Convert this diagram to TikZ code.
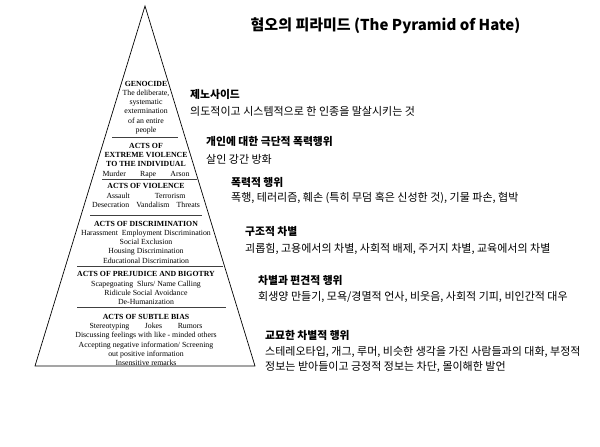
\documentclass[tikz,border=0pt]{standalone}
\usepackage{fontspec}
\setmainfont{Liberation Serif}
\newfontfamily\kor{Noto Sans CJK KR}
\newcommand\pyrfont{\fontsize{7.8}{9.3}\selectfont}

\begin{document}
\begin{tikzpicture}[x=1pt,y=-1pt,
  layertext/.style={anchor=north,align=center,inner sep=0pt,font=\pyrfont},
  sepline/.style={black!75,line width=0.6pt},
  heading/.style={anchor=base west,inner sep=0pt,font=\kor\bfseries\fontsize{10.8}{13}\selectfont},
  detail/.style={anchor=base west,inner sep=0pt,font=\kor\fontsize{11}{13}\selectfont}]
\useasboundingbox (0,0) rectangle (600,447);

% pyramid
\draw[line width=0.7pt] (145,6) -- (255,366) -- (35,366) -- cycle;
\draw[sepline] (112,137.3) -- (178,137.3)   (102,179) -- (197,179)
      (90,215) -- (202,215)   (77,266.5) -- (223,266.5)
      (77,307.5) -- (226,307.5);

\node[layertext] (genocide) at (146,80.7) {\textbf{GENOCIDE}\\The deliberate,\\systematic\\extermination\\of an entire\\people};
\node[layertext] (extreme) at (146,143) {\textbf{ACTS OF}\\\textbf{EXTREME VIOLENCE}\\\textbf{TO THE INDIVIDUAL}\\\makebox[87pt][s]{Murder\hfill Rape\hfill Arson}};
\node[layertext] (violence) at (146,183.4) {\textbf{ACTS OF VIOLENCE}\\\makebox[79pt][s]{Assault\hfill Terrorism}\\\makebox[108pt][s]{Desecration\hfill Vandalism\hfill Threats}};
\node[layertext] (discrim) at (146,220.7) {\textbf{ACTS OF DISCRIMINATION}\\Harassment\ \ Employment Discrimination\\Social Exclusion\\Housing Discrimination\\Educational Discrimination};
\node[layertext] (prejudice) at (146,271.4) {\textbf{ACTS OF PREJUDICE AND BIGOTRY}\\Scapegoating\ \ Slurs/ Name Calling\\Ridicule Social Avoidance\\De-Humanization};
\node[layertext] (subtle) at (146,314) {\textbf{ACTS OF SUBTLE BIAS}\\\makebox[113pt][s]{Stereotyping\hfill Jokes\hfill Rumors}\\Discussing feelings with like - minded others\\Accepting negative information/ Screening\\out positive information\\Insensitive remarks};

% title
\node[anchor=base,inner sep=0pt,font=\kor\bfseries\fontsize{15}{18}\selectfont] (title) at (385.5,30.5) {혐오의 피라미드 (The Pyramid of Hate)};

% descriptions
\node[heading] (genocideK) at (190,98.1) {제노사이드};
\node[detail] (genocideD) at (190,115.7) {의도적이고 시스템적으로 한 인종을 말살시키는 것};
\node[heading] (extremeK) at (206,145.8) {개인에 대한 극단적 폭력행위};
\node[detail] (extremeD) at (206,163.2) {살인 강간 방화};
\node[heading] (violenceK) at (231,186.1) {폭력적 행위};
\node[detail] (violenceD) at (231,201.7) {폭행, 테러리즘, 훼손 (특히 무덤 혹은 신성한 것), 기물 파손, 협박};
\node[heading] (discrimK) at (245,235.1) {구조적 차별};
\node[detail] (discrimD) at (245,252.2) {괴롭힘, 고용에서의 차별, 사회적 배제, 주거지 차별, 교육에서의 차별};
\node[heading] (prejudiceK) at (258,284.8) {차별과 편견적 행위};
\node[detail] (prejudiceD) at (258,300.7) {회생양 만들기, 모욕/경멸적 언사, 비웃음, 사회적 기피, 비인간적 대우};
\node[heading] (subtleK) at (265,339.1) {교묘한 차별적 행위};
\node[detail] (subtleD) at (265,355.9) {스테레오타입, 개그, 루머, 비슷한 생각을 가진 사람들과의 대화, 부정적};
\node[detail] (subtleE) at (265,370.9) {정보는 받아들이고 긍정적 정보는 차단, 몰이해한 발언};
\end{tikzpicture}
\end{document}
